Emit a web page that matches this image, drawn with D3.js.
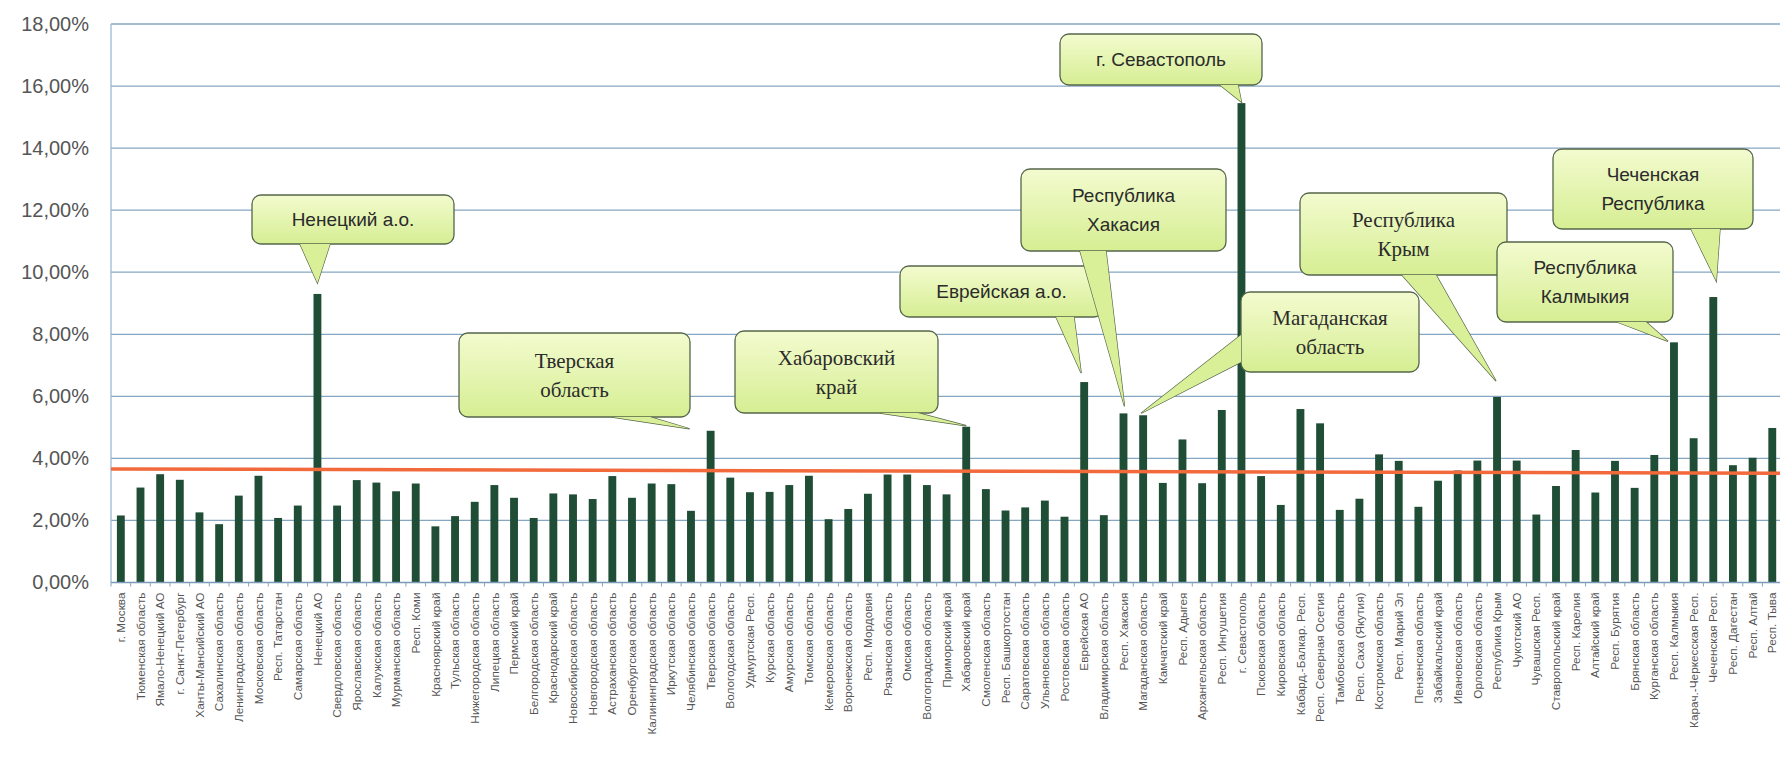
<!DOCTYPE html>
<html><head><meta charset="utf-8">
<script src="https://cdn.jsdelivr.net/npm/d3@7"></script>
<style>body{margin:0;background:#fff;overflow:hidden}</style>
</head><body><svg id="c" width="1780" height="763"></svg>
<script>
const regions = ["г. Москва","Тюменская область","Ямало-Ненецкий АО","г. Санкт-Петербург","Ханты-Мансийский АО","Сахалинская область","Ленинградская область","Московская область","Респ. Татарстан","Самарская область","Ненецкий АО","Свердловская область","Ярославская область","Калужская область","Мурманская область","Респ. Коми","Красноярский край","Тульская область","Нижегородская область","Липецкая область","Пермский край","Белгородская область","Краснодарский край","Новосибирская область","Новгородская область","Астраханская область","Оренбургская область","Калининградская область","Иркутская область","Челябинская область","Тверская область","Вологодская область","Удмуртская Респ.","Курская область","Амурская область","Томская область","Кемеровская область","Воронежская область","Респ. Мордовия","Рязанская область","Омская область","Волгоградская область","Приморский край","Хабаровский край","Смоленская область","Респ. Башкортостан","Саратовская область","Ульяновская область","Ростовская область","Еврейская АО","Владимирская область","Респ. Хакасия","Магаданская область","Камчатский край","Респ. Адыгея","Архангельская область","Респ. Ингушетия","г. Севастополь","Псковская область","Кировская область","Кабард.-Балкар. Респ.","Респ. Северная Осетия","Тамбовская область","Респ. Саха (Якутия)","Костромская область","Респ. Марий Эл","Пензенская область","Забайкальский край","Ивановская область","Орловская область","Республика Крым","Чукотский АО","Чувашская Респ.","Ставропольский край","Респ. Карелия","Алтайский край","Респ. Бурятия","Брянская область","Курганская область","Респ. Калмыкия","Карач.-Черкесская Респ.","Чеченская Респ.","Респ. Дагестан","Респ. Алтай","Респ. Тыва"];
const values = [2.16,3.06,3.49,3.31,2.26,1.88,2.80,3.44,2.08,2.48,9.30,2.48,3.30,3.22,2.94,3.19,1.81,2.14,2.60,3.14,2.73,2.08,2.87,2.84,2.69,3.43,2.73,3.19,3.17,2.31,4.89,3.38,2.91,2.92,3.14,3.44,2.04,2.37,2.86,3.48,3.48,3.14,2.84,5.02,3.01,2.32,2.42,2.64,2.12,6.46,2.17,5.45,5.39,3.21,4.61,3.20,5.56,15.45,3.43,2.50,5.59,5.13,2.34,2.70,4.13,3.92,2.44,3.28,3.61,3.93,5.98,3.93,2.19,3.11,4.27,2.90,3.92,3.05,4.11,7.74,4.65,9.20,3.78,4.02,4.98];
const yTicks = [0,2,4,6,8,10,12,14,16,18];
const averageLine = [3.66, 3.52]; // value at left edge, value at right edge
const callouts = [
  {region:"Ненецкий АО", lines:["Ненецкий а.о."], serif:false},
  {region:"Тверская область", lines:["Тверская","область"], serif:true},
  {region:"Хабаровский край", lines:["Хабаровский","край"], serif:true},
  {region:"Еврейская АО", lines:["Еврейская а.о."], serif:false},
  {region:"Респ. Хакасия", lines:["Республика","Хакасия"], serif:false},
  {region:"г. Севастополь", lines:["г. Севастополь"], serif:false},
  {region:"Магаданская область", lines:["Магаданская","область"], serif:true},
  {region:"Республика Крым", lines:["Республика","Крым"], serif:true},
  {region:"Респ. Калмыкия", lines:["Республика","Калмыкия"], serif:false},
  {region:"Чеченская Респ.", lines:["Чеченская","Республика"], serif:false}
];
// layout of callout boxes (pixels): box, pointer base points, tip offset from bar top
const calloutLayout = [
  {x:252,y:195,w:202,h:49, b:[[300,244],[330,244]], tip:[0,-11]},
  {x:459,y:333,w:231,h:84, b:[[612,417],[650,417]], tip:[-21,-2]},
  {x:735,y:331,w:203,h:82, b:[[880,413],[918,413]], tip:[0,-1]},
  {x:900,y:266,w:203,h:51, b:[[1056,317],[1074,317]], tip:[-3,-9]},
  {x:1021,y:169,w:205,h:82, b:[[1080,251],[1106,251]], tip:[1,-7]},
  {x:1060,y:34,w:202,h:51, b:[[1220,85],[1238,85]], tip:[0,-1]},
  {x:1241,y:292,w:178,h:80, b:[[1241,335],[1241,362]], tip:[-2,-2]},
  {x:1300,y:193,w:207,h:82, b:[[1402,275],[1436,275]], tip:[-1,-16]},
  {x:1497,y:242,w:176,h:80, b:[[1617,322],[1646,322]], tip:[-6,-1]},
  {x:1553,y:149,w:200,h:80, b:[[1691,229],[1720,229]], tip:[3,-16]}
];

const svg = d3.select("#c");
const defs = svg.append("defs");
const grad = defs.append("linearGradient").attr("id","cfill").attr("x1",0).attr("y1",0).attr("x2",0).attr("y2",1);
grad.append("stop").attr("offset","0%").attr("stop-color","#f3fbcf");
grad.append("stop").attr("offset","100%").attr("stop-color","#d6ee93");

const left = 111, step = 19.66, right = left + regions.length*step;
const x = d3.scaleBand().domain(regions).range([left, right]).paddingInner(0.6).paddingOuter(0.3);
const y = d3.scaleLinear().domain([0,18]).range([582.5, 24]);
const fmt = d => d.toFixed(2).replace(".", ",") + "%";

// gridlines
svg.append("g").selectAll("line").data(yTicks.filter(d=>d>0)).join("line")
  .attr("x1", left).attr("x2", 1780).attr("y1", d=>y(d)).attr("y2", d=>y(d))
  .attr("stroke", "#86a7c4").attr("stroke-width", 1.3);

// y axis line
svg.append("line").attr("x1", left).attr("x2", left).attr("y1", y(18)).attr("y2", y(0))
  .attr("stroke", "#9cb9d2").attr("stroke-width", 1.3);

// y labels
const yAxis = d3.axisLeft(y).tickValues(yTicks).tickFormat(fmt).tickSize(0).tickPadding(22);
const ya = svg.append("g").attr("transform", `translate(${left},0)`).call(yAxis);
ya.select(".domain").remove();
ya.selectAll("text").attr("font-family","Liberation Sans, Arial, sans-serif").attr("font-size", 20).attr("fill","#555");

// bars
svg.append("g").selectAll("rect").data(regions).join("rect")
  .attr("x", d=>x(d)).attr("width", x.bandwidth())
  .attr("y", (d,i)=>y(values[i])).attr("height", (d,i)=>y(0)-y(values[i]))
  .attr("fill", "#1f4d36");

// baseline
svg.append("line").attr("x1", left).attr("x2", 1780).attr("y1", y(0)).attr("y2", y(0))
  .attr("stroke", "#7b9bb8").attr("stroke-width", 1.5);

// x ticks at band boundaries
const gap = x.step() - x.bandwidth();
svg.append("g").selectAll("line").data(regions).join("line")
  .attr("x1", d=>x(d)-gap/2).attr("x2", d=>x(d)-gap/2)
  .attr("y1", y(0)).attr("y2", y(0)+4).attr("stroke","#8aa5bf").attr("stroke-width",1);

// x labels
const xAxis = d3.axisBottom(x).tickSize(0).tickPadding(0);
const xa = svg.append("g").attr("transform", `translate(0,${y(0)})`).call(xAxis);
xa.select(".domain").remove();
xa.selectAll("text")
  .attr("font-family","Liberation Sans, Arial, sans-serif").attr("font-size", 11.8).attr("fill","#555")
  .attr("text-anchor","end").attr("dy","0.35em")
  .attr("transform","translate(0,10) rotate(-90)").attr("x",0).attr("y",0);

// average line
svg.append("line").attr("x1", left).attr("x2", 1780)
  .attr("y1", y(averageLine[0])).attr("y2", y(averageLine[1]))
  .attr("stroke", "#f2693c").attr("stroke-width", 3.5);

// callouts
const cg = svg.append("g");
callouts.forEach((c, i) => {
  const L = calloutLayout[i];
  const idx = regions.indexOf(c.region);
  const tx = x(c.region) + x.bandwidth()/2 + L.tip[0];
  const ty = y(values[idx]) + L.tip[1];
  const wedge = `M${L.b[0][0]},${L.b[0][1]}L${tx},${ty}L${L.b[1][0]},${L.b[1][1]}Z`;
  const g = cg.append("g");
  g.append("path").attr("d", wedge).attr("fill","#d9ef98").attr("stroke","#55664a").attr("stroke-width",1.3);
  g.append("rect").attr("x",L.x).attr("y",L.y).attr("width",L.w).attr("height",L.h).attr("rx",9)
    .attr("fill","url(#cfill)").attr("stroke","#55664a").attr("stroke-width",1.3);
  g.append("path").attr("d", wedge).attr("fill","#d9ef98").attr("stroke","none");
  const fs = c.serif ? 21 : 19;
  const lh = 29;
  const cy = L.y + L.h/2 - (c.lines.length-1)*lh/2;
  c.lines.forEach((t, k) => {
    g.append("text").attr("x", L.x + L.w/2).attr("y", cy + k*lh).attr("dy","0.35em")
      .attr("text-anchor","middle")
      .attr("font-family", c.serif ? "Liberation Serif, Times New Roman, serif" : "Liberation Sans, Arial, sans-serif")
      .attr("font-size", fs).attr("fill","#2b2b2b").text(t);
  });
});
</script></body></html>
